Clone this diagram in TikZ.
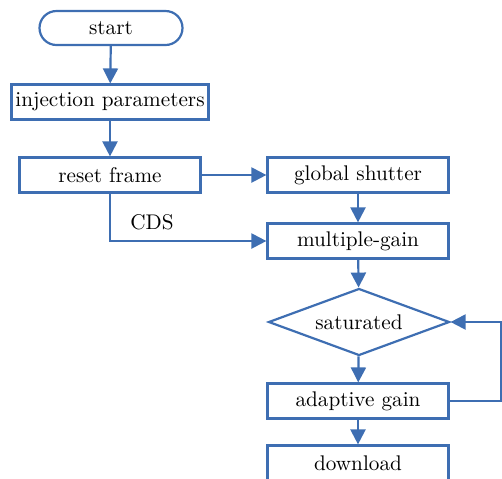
\documentclass[tikz,border=0pt]{standalone}
\usepackage{amsmath}
\usetikzlibrary{arrows.meta, positioning, shapes.geometric, calc}
\definecolor{flowblue}{RGB}{62,110,178}

\begin{document}
\begin{tikzpicture}[
    x=0.5pt, y=-0.5pt,
    every node/.style={font=\fontsize{10.6}{12}\selectfont, text=black},
    box/.style={rectangle, draw=flowblue, line width=1.1pt, minimum width=90.5pt, minimum height=17.5pt, align=center, inner sep=1pt},
    terminal/.style={rectangle, draw=flowblue, line width=1.1pt, rounded corners=8.5pt, minimum width=71.5pt, minimum height=17pt, align=center},
    decision/.style={diamond, draw=flowblue, line width=1.1pt, aspect=2.7, minimum width=90.5pt, minimum height=33.5pt, inner sep=0pt},
    arrow/.style={-{Triangle[length=7.5pt, width=7.5pt]}, line width=1.1pt, flowblue},
    label/.style={font=\fontsize{10.6}{12}\selectfont}
]
\useasboundingbox (0,0) rectangle (502,478);

% ============ LEFT COLUMN ============
\node[terminal] (start) at (111, 28) {start};
\node[box, minimum width=98.5pt] (inject) at (110, 102) {injection parameters};
\node[box] (reset) at (110, 175) {reset frame};

% ============ RIGHT COLUMN ============
\node[box] (shutter) at (358, 175) {global shutter};
\node[box] (mgain) at (358, 241) {multiple-gain};
\node[decision] (sat) at (359, 322) {saturated};
\node[box] (adapt) at (358, 401) {adaptive gain};
\node[box] (down) at (358, 463) {download};

% feedback corner
\coordinate (fb) at (501, 401);

% ============ CONNECTORS ============
\draw[arrow] (start) -- (inject);
\draw[arrow] (inject) -- (reset);
\draw[arrow] (reset) -- (shutter);
\draw[arrow] (reset.south) |- (mgain.west);
\node[label] (cds) at (152, 222) {CDS};
\draw[arrow] (shutter) -- (mgain);
\draw[arrow] (mgain) -- (sat);
\draw[arrow] (sat) -- (adapt);
\draw[arrow] (adapt) -- (down);

% Feedback loop
\draw[arrow] (adapt.east) -- (fb) |- (sat.east);

\end{tikzpicture}
\end{document}
